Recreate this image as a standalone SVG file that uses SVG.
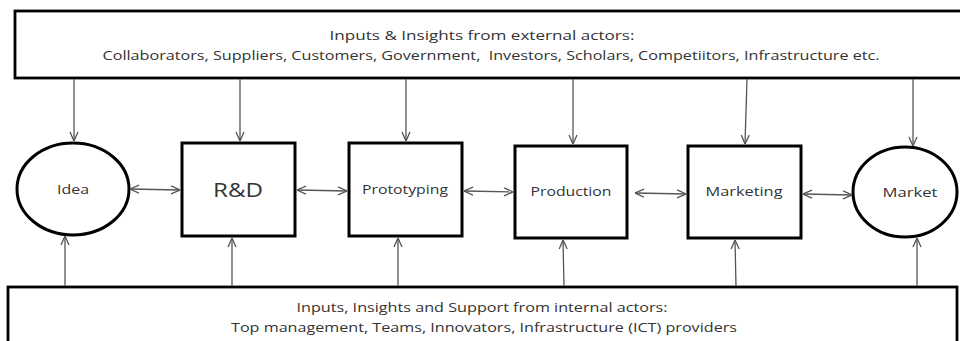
<svg xmlns="http://www.w3.org/2000/svg" width="960" height="341" viewBox="0 0 960 341">
<style>
.box{fill:#fff;stroke:#000;stroke-width:3}
.frame{fill:#fff;stroke:#000;stroke-width:2.8}
.lbl{font-family:"Open Sans","Liberation Sans",sans-serif;fill:#333;text-anchor:middle}
.small{font-size:12px}
.conn line{stroke:#555;stroke-width:1.3;fill:none}
.one{marker-end:url(#ah)}
.two{marker-start:url(#ah);marker-end:url(#ah)}
</style>
<defs>
<marker id="ah" viewBox="0 0 10 10" refX="10" refY="5" markerWidth="10" markerHeight="10" markerUnits="userSpaceOnUse" orient="auto-start-reverse">
<path d="M1,1 L10,5 L1,9" fill="none" stroke="#555" stroke-width="1.3"/>
</marker>
</defs>
<rect width="960" height="341" fill="#fff"/>
<g id="external">
<rect class="frame" x="15" y="11" width="960" height="67"/>
<text class="lbl" x="482" y="40" font-size="12.5" textLength="305" lengthAdjust="spacingAndGlyphs">Inputs &amp; Insights from external actors:</text>
<text class="lbl" x="491" y="60" font-size="12.5" textLength="777" lengthAdjust="spacingAndGlyphs" xml:space="preserve">Collaborators, Suppliers, Customers, Government,  Investors, Scholars, Competiitors, Infrastructure etc.</text>
</g>
<g id="internal">
<rect class="frame" x="8" y="287" width="949" height="70"/>
<text class="lbl" x="482" y="312" font-size="12.5" textLength="371" lengthAdjust="spacingAndGlyphs">Inputs, Insights and Support from internal actors:</text>
<text class="lbl" x="484" y="332" font-size="12.5" textLength="506" lengthAdjust="spacingAndGlyphs">Top management, Teams, Innovators, Infrastructure (ICT) providers</text>
</g>
<g id="idea">
<ellipse class="box" cx="73" cy="189" rx="56" ry="46"/>
<text class="lbl small" x="73" y="194" textLength="32" lengthAdjust="spacingAndGlyphs">Idea</text>
</g>
<g id="rnd">
<rect class="box" x="182" y="143" width="113" height="93"/>
<text class="lbl" x="238" y="197" font-size="20" textLength="50" lengthAdjust="spacingAndGlyphs">R&amp;D</text>
</g>
<g id="prototyping">
<rect class="box" x="349" y="143" width="113" height="93"/>
<text class="lbl small" x="405" y="194" textLength="86" lengthAdjust="spacingAndGlyphs">Prototyping</text>
</g>
<g id="production">
<rect class="box" x="515" y="146" width="112" height="92"/>
<text class="lbl small" x="571" y="196" textLength="81" lengthAdjust="spacingAndGlyphs">Production</text>
</g>
<g id="marketing">
<rect class="box" x="688" y="146" width="113" height="92"/>
<text class="lbl small" x="744" y="196" textLength="77" lengthAdjust="spacingAndGlyphs">Marketing</text>
</g>
<g id="market">
<ellipse class="box" cx="905" cy="192" rx="52" ry="45"/>
<text class="lbl small" x="910" y="197" textLength="55" lengthAdjust="spacingAndGlyphs">Market</text>
</g>
<g id="connectors" class="conn">
<line class="one" x1="74" y1="79" x2="74" y2="141"/>
<line class="one" x1="240" y1="79" x2="240" y2="141"/>
<line class="one" x1="406" y1="79" x2="406" y2="141"/>
<line class="one" x1="573" y1="79" x2="573" y2="144"/>
<line class="one" x1="747" y1="79" x2="745" y2="144"/>
<line class="one" x1="913" y1="79" x2="913" y2="146"/>
<line class="one" x1="65" y1="286" x2="65" y2="236"/>
<line class="one" x1="232" y1="286" x2="232" y2="238"/>
<line class="one" x1="398" y1="286" x2="398" y2="238"/>
<line class="one" x1="564" y1="286" x2="563" y2="240"/>
<line class="one" x1="736" y1="286" x2="735" y2="240"/>
<line class="one" x1="917" y1="286" x2="917" y2="238"/>
<line class="two" x1="130" y1="189" x2="180" y2="190"/>
<line class="two" x1="297" y1="190" x2="347" y2="191"/>
<line class="two" x1="464" y1="191" x2="513" y2="192"/>
<line class="two" x1="635" y1="193" x2="686" y2="194"/>
<line class="two" x1="803" y1="194" x2="852" y2="195"/>
</g>
</svg>
